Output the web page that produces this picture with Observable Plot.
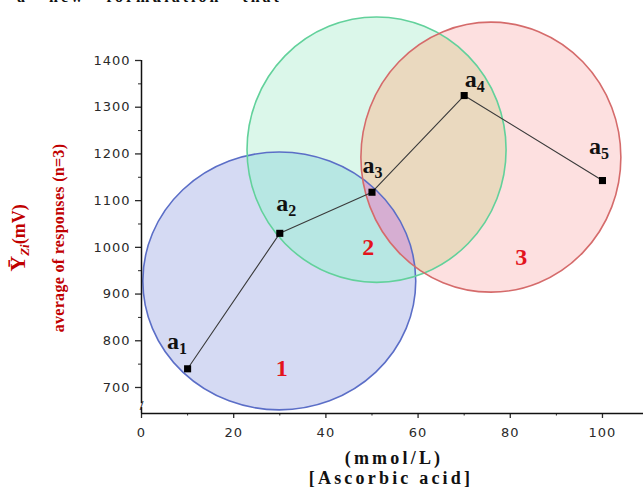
<!DOCTYPE html>
<html>
<head>
<meta charset="utf-8">
<script src="https://cdn.jsdelivr.net/npm/d3@7"></script>
<script src="https://cdn.jsdelivr.net/npm/@observablehq/plot@0.6"></script>
<style>
  body { margin: 0; background: #fff; }
  #chart { position: relative; width: 643px; height: 488px; overflow: hidden; }
  #chart svg g[aria-label="x-axis tick label"] text,
  #chart svg g[aria-label="y-axis tick label"] text { letter-spacing: 1px; }
</style>
</head>
<body>
<div id="chart"></div>
<script>
// ---- data ----
const concentration = [10, 30, 50, 70, 100];          // mmol/L
const response = [740, 1030, 1118, 1325, 1143];      // mV
const pointIndex = ["1", "2", "3", "4", "5"];

const circleName = ["1", "2", "3"];
const circleCx = [30.0, 51.1, 75.9];
const circleCy = [927, 1208, 1192];
const circleRx = [29.6, 28.1, 28.2];
const circleRy = [276, 284, 289];
const regionLabelX = [30.4, 49.2, 82.4];
const regionLabelY = [741, 1000, 978];

const xTicks = [0, 20, 40, 60, 80, 100];
const xMinorTicks = [10, 30, 50, 70, 90];
const yTicks = [700, 800, 900, 1000, 1100, 1200, 1300, 1400];
const yMinorTicks = [750, 850, 950, 1050, 1150, 1250, 1350];

const xDomain = [0, 108.9];
const yDomain = [644.3, 1400];
const yBreak = 661;

// ---- style ----
const serif = "'Liberation Serif', 'DejaVu Serif', serif";
const fills = {blue: "#d5daf3", green: "#dbf7ea", red: "#fde0e0",
               blueGreen: "#b7e7e3", greenRed: "#ead9bf", redBlue: "#d6aed2"};
const strokes = ["#5b6ec7", "#62d19b", "#d56b6b"];
const labelOffset = [[-20, -19], [-3, -22], [-9, -19], [1, -8], [-13, -26]];

const points = concentration.map((c, i) => ({c, r: response[i], name: pointIndex[i]}));
const regions = circleName.map((n, i) => ({x: regionLabelX[i], y: regionLabelY[i], text: n}));

const plot = Plot.plot({
  width: 643, height: 488,
  marginLeft: 141, marginRight: 0, marginTop: 60, marginBottom: 75,
  x: {domain: xDomain},
  y: {domain: yDomain},
  style: {fontFamily: "'DejaVu Sans', sans-serif", fontSize: "13px", color: "#2a2a2a", background: "transparent", overflow: "visible"},
  marks: [
    Plot.axisX(xTicks, {tickSize: 5, tickPadding: 9, label: null, strokeWidth: 1.3, tickFormat: d => String(d)}),
    Plot.axisX(xMinorTicks, {tickSize: 2.5, tickFormat: () => "", label: null}),
    Plot.axisY(yTicks, {tickSize: 6, tickPadding: 5, label: null, strokeWidth: 1.3, tickFormat: d => String(d)}),
    Plot.axisY(yMinorTicks, {tickSize: 3, tickFormat: () => "", label: null}),
    Plot.ruleY([yDomain[0]], {x1: xDomain[0], x2: xDomain[1], stroke: "#111", strokeWidth: 1.5}),
    Plot.ruleX([0], {y1: yBreak + 4, y2: yDomain[1], stroke: "#111", strokeWidth: 1.5}),
    Plot.ruleX([0], {y1: yDomain[0], y2: yBreak - 4, stroke: "#111", strokeWidth: 1.5}),
    Plot.text([0], {x: 0, y: yBreak, text: () => "/", fontSize: 11, fill: "#111"}),
    Plot.line(points, {x: "c", y: "r", stroke: "#3a3a3a", strokeWidth: 1.1}),
    Plot.dot(points, {x: "c", y: "r", symbol: "square", r: 4, fill: "#000", stroke: "none"}),
    Plot.text(regions, {x: "x", y: "y", text: "text", fill: "#e3141c", fontSize: 24, fontWeight: "bold", fontFamily: serif})
  ]
});
document.getElementById("chart").appendChild(plot);

const sx = plot.scale("x"), sy = plot.scale("y");
const svg = d3.select(plot);

// ellipses (beneath other marks)
const ell = circleName.map((n, i) => ({
  cx: sx.apply(circleCx[i]),
  cy: sy.apply(circleCy[i]),
  rx: sx.apply(circleCx[i] + circleRx[i]) - sx.apply(circleCx[i]),
  ry: sy.apply(circleCy[i] - circleRy[i]) - sy.apply(circleCy[i])
}));
const g = svg.insert("g", ":scope > g").attr("aria-label", "circles");
const defs = g.append("defs");
ell.forEach((e, i) => {
  defs.append("clipPath").attr("id", "clipE" + i)
    .append("ellipse").attr("cx", e.cx).attr("cy", e.cy).attr("rx", e.rx).attr("ry", e.ry);
});
function drawEllipse(i, fill, clip) {
  const e = ell[i];
  const el = g.append("ellipse").attr("cx", e.cx).attr("cy", e.cy).attr("rx", e.rx).attr("ry", e.ry)
    .attr("fill", fill).attr("stroke", "none");
  if (clip != null) el.attr("clip-path", `url(#clipE${clip})`);
}
drawEllipse(0, fills.blue);
drawEllipse(1, fills.green);
drawEllipse(2, fills.red);
drawEllipse(0, fills.blueGreen, 1);
drawEllipse(2, fills.greenRed, 1);
drawEllipse(2, fills.redBlue, 0);
ell.forEach((e, i) => {
  g.append("ellipse").attr("cx", e.cx).attr("cy", e.cy).attr("rx", e.rx).attr("ry", e.ry)
    .attr("fill", "none").attr("stroke", strokes[i]).attr("stroke-width", 1.6);
});

// point labels a_i
const lab = svg.append("g").attr("aria-label", "point labels").attr("text-anchor", "start");
points.forEach((p, i) => {
  const t = lab.append("text")
    .attr("x", sx.apply(p.c) + labelOffset[i][0])
    .attr("y", sy.apply(p.r) + labelOffset[i][1])
    .attr("font-family", serif).attr("font-weight", "bold").attr("fill", "#111");
  t.append("tspan").attr("font-size", 24).text("a");
  t.append("tspan").attr("font-size", 16).attr("dy", 5).text(p.name);
});

// y-axis title (rotated, red)
const yt = svg.append("g").attr("aria-label", "y-axis title").attr("fill", "#c00000")
  .attr("font-family", serif).attr("font-weight", "bold");
const t1 = yt.append("text").attr("transform", "translate(25,238) rotate(-90)").attr("text-anchor", "middle");
t1.append("tspan").attr("font-size", 22).text("Ȳ");
t1.append("tspan").attr("font-size", 13).attr("font-style", "italic").attr("dy", 4).text("Zi");
t1.append("tspan").attr("font-size", 18).attr("dy", -4).text("(mV)");
yt.append("text").attr("transform", "translate(64,238) rotate(-90)").attr("text-anchor", "middle")
  .attr("font-size", 16).attr("letter-spacing", "0.3px").text("average of responses (n=3)");

// x-axis title
const xt = svg.append("g").attr("aria-label", "x-axis title").attr("fill", "#111")
  .attr("font-family", serif).attr("font-weight", "bold").attr("font-size", 18)
  .attr("letter-spacing", "3.2px").attr("text-anchor", "middle");
xt.append("text").attr("x", 394).attr("y", 464).text("(mmol/L)");
xt.append("text").attr("x", 391).attr("y", 484).text("[Ascorbic acid]");

// cropped line of body text at the very top (only its lower edge shows)
svg.append("text").attr("aria-label", "cropped text").attr("fill", "#111").attr("text-anchor", "start")
  .attr("font-family", serif).attr("font-weight", "bold").attr("font-size", 16)
  .attr("letter-spacing", "3px").attr("word-spacing", "14px")
  .attr("x", 17).attr("y", 2).text("a new formulation that");
</script>
</body>
</html>
